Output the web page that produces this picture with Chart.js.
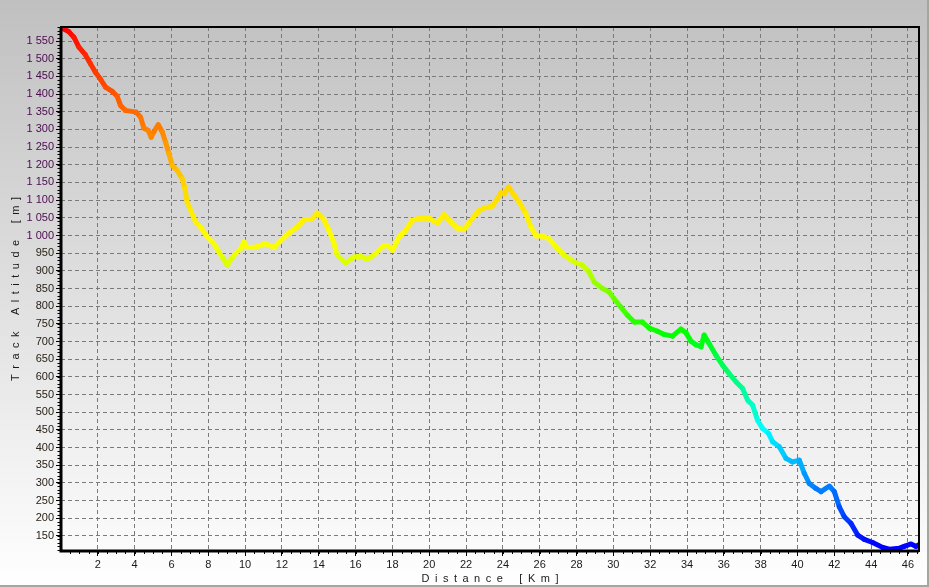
<!DOCTYPE html>
<html>
<head>
<meta charset="utf-8">
<title>Track Altitude</title>
<script src="https://cdn.jsdelivr.net/npm/chart.js@4.4.1/dist/chart.umd.min.js"></script>
<style>
  html, body { margin: 0; padding: 0; background: #fff; }
  canvas { display: block; }
</style>
</head>
<body>
<canvas id="profile" width="929" height="587"></canvas>
<script>
const distanceKm = [
  0.0, 0.42, 0.7, 0.97, 1.33, 1.6, 1.87, 2.15, 2.42, 2.78,
  3.05, 3.23, 3.5, 4.08, 4.32, 4.5, 4.74, 4.9, 5.04, 5.28,
  5.5, 5.68, 5.86, 6.04, 6.31, 6.58, 6.73, 6.85, 7.04, 7.31,
  7.58, 7.94, 8.3, 8.58, 8.8, 9.03, 9.39, 9.76, 9.93, 10.1,
  10.57, 11.1, 11.57, 11.93, 12.38, 12.83, 13.2, 13.6, 13.92, 14.28,
  14.55, 14.83, 15.0, 15.46, 15.9, 16.28, 16.64, 17.09, 17.5, 17.72,
  18.0, 18.36, 18.72, 19.08, 19.45, 19.99, 20.44, 20.8, 21.17, 21.53,
  21.89, 22.26, 22.7, 23.07, 23.43, 23.7, 23.89, 24.07, 24.3, 24.52,
  24.88, 25.24, 25.52, 25.79, 26.15, 26.5, 26.88, 27.33, 27.87, 28.32,
  28.68, 28.96, 29.41, 29.77, 30.04, 30.4, 30.77, 31.13, 31.58, 31.95,
  32.4, 32.76, 33.21, 33.67, 33.94, 34.21, 34.48, 34.76, 34.93, 35.2,
  35.57, 35.93, 36.29, 36.66, 37.02, 37.29, 37.56, 37.83, 38.1, 38.43,
  38.65, 39.01, 39.38, 39.73, 40.1, 40.37, 40.64, 41.0, 41.28, 41.73,
  42.0, 42.27, 42.54, 42.91, 43.27, 43.63, 44.08, 44.63, 44.99, 45.53,
  45.8, 46.17, 46.44, 46.56
];
const altitudeM = [
  1588, 1577, 1561, 1533, 1511, 1486, 1462, 1442, 1420, 1408,
  1394, 1368, 1354, 1349, 1335, 1304, 1297, 1278, 1293, 1314,
  1293, 1264, 1232, 1198, 1184, 1161, 1133, 1095, 1071, 1038,
  1024, 996, 977, 953, 935, 916, 944, 963, 982, 966,
  967, 977, 966, 986, 1007, 1024, 1045, 1045, 1064, 1045,
  1015, 977, 944, 922, 939, 941, 932, 949, 970, 972,
  958, 996, 1015, 1043, 1048, 1049, 1035, 1059, 1038, 1021,
  1017, 1043, 1071, 1079, 1083, 1104, 1121, 1118, 1137, 1121,
  1095, 1062, 1024, 999, 998, 991, 968, 944, 925, 916,
  897, 868, 850, 840, 821, 798, 774, 755, 755, 738,
  729, 720, 715, 735, 725, 701, 691, 685, 718, 694,
  661, 633, 609, 586, 567, 534, 520, 477, 454, 440,
  416, 402, 369, 359, 364, 327, 298, 284, 275, 291,
  275, 232, 204, 185, 152, 140, 131, 117, 112, 115,
  120, 127, 120, 124
];
const xTickValues = [2, 4, 6, 8, 10, 12, 14, 16, 18, 20, 22, 24, 26, 28, 30, 32, 34, 36, 38, 40, 42, 44, 46];
const yTickValues = [150, 200, 250, 300, 350, 400, 450, 500, 550, 600, 650, 700, 750, 800, 850, 900, 950,
  1000, 1050, 1100, 1150, 1200, 1250, 1300, 1350, 1400, 1450, 1500, 1550];

// altitude -> hue (red at the top, blue at the bottom)
const hueStops = [[1590, 0], [1300, 30], [1140, 50], [1040, 57], [960, 62], [910, 72], [720, 120], [450, 180], [120, 240]];

const altColor = (alt) => {
  if (alt >= hueStops[0][0]) return "hsl(0, 100%, 50%)";
  let h = 240;
  for (let i = 0; i < hueStops.length - 1; i++) {
    const [a0, h0] = hueStops[i];
    const [a1, h1] = hueStops[i + 1];
    if (alt <= a0 && alt >= a1) {
      h = h0 + (h1 - h0) * (a0 - alt) / (a0 - a1);
      break;
    }
  }
  return "hsl(" + h.toFixed(1) + ", 100%, 50%)";
};

const fmtThousands = (v) => {
  if (v < 1000) return String(v);
  return Math.floor(v / 1000) + " " + String(v % 1000).padStart(3, "0");
};

// the titles are spread out letter by letter, as in the original
const spread = (words) => words.map((w) => w.split("").join("\u2002")).join("\u2002\u2002\u2002");

const FONT = "'Liberation Sans', Arial, sans-serif";

const background = {
  id: "background",
  beforeDraw(chart) {
    const { ctx, width, height } = chart;
    const g = ctx.createLinearGradient(0, 0, 0, height);
    g.addColorStop(0, "#c0c0c0");
    g.addColorStop(1, "#ffffff");
    ctx.save();
    ctx.fillStyle = g;
    ctx.fillRect(0, 0, width, height);
    ctx.restore();
  },
  afterDraw(chart) {
    const { ctx, width, height } = chart;
    ctx.save();
    ctx.fillStyle = "#a6a69e";
    ctx.fillRect(width - 2, 0, 2, height);
    ctx.fillRect(0, height - 2, width, 2);
    ctx.restore();
  },
};

const frame = {
  id: "frame",
  afterDatasetsDraw(chart) {
    const { ctx, chartArea: a, scales: { x, y } } = chart;
    ctx.save();
    ctx.strokeStyle = "#000";
    ctx.lineWidth = 2;
    ctx.strokeRect(a.left, a.top, a.right - a.left, a.bottom - a.top);
    ctx.lineWidth = 3;
    ctx.beginPath();
    ctx.moveTo(a.left, a.top);
    ctx.lineTo(a.left, a.bottom);
    ctx.lineTo(a.right, a.bottom);
    ctx.stroke();

    // minor ticks
    ctx.lineWidth = 1;
    ctx.beginPath();
    for (let i = 1; i <= 93; i++) {
      const px = Math.round(x.getPixelForValue(i * 0.5)) + 0.5;
      ctx.moveTo(px, a.bottom);
      ctx.lineTo(px, a.bottom + 3);
    }
    for (let m = 110; m <= 1590; m += 10) {
      const py = Math.round(y.getPixelForValue(m)) + 0.5;
      ctx.moveTo(a.left - 3.5, py);
      ctx.lineTo(a.left, py);
    }
    ctx.stroke();
    ctx.restore();
  },
};

const points = distanceKm.map((d, i) => ({ x: d, y: altitudeM[i] }));

new Chart(document.getElementById("profile"), {
  type: "line",
  data: {
    datasets: [
      {
        data: points,
        borderWidth: 5,
        pointRadius: 0,
        tension: 0,
        borderJoinStyle: "round",
        borderCapStyle: "round",
        borderColor: "#ff0000",
        segment: {
          borderColor: (c) => altColor((c.p0.parsed.y + c.p1.parsed.y) / 2),
        },
      },
    ],
  },
  options: {
    responsive: false,
    animation: false,
    layout: { padding: { top: 27, right: 10, left: 0, bottom: 0 } },
    plugins: {
      legend: { display: false },
      tooltip: { enabled: false },
    },
    scales: {
      x: {
        type: "linear",
        min: 0,
        max: 46.6,
        afterBuildTicks: (s) => {
          s.ticks = xTickValues.map((v) => ({ value: v }));
        },
        afterFit: (s) => {
          s.height = 36;
        },
        grid: {
          color: "#7a7a7a",
          lineWidth: 1,
          drawTicks: true,
          tickLength: 5,
          tickColor: "#000",
          tickWidth: 1,
        },
        border: { display: false, dash: [4, 3] },
        ticks: {
          color: "#1a1a1a",
          font: { family: FONT, size: 11 },
          padding: 2,
          maxRotation: 0,
          autoSkip: false,
        },
        title: {
          display: true,
          text: spread(["Distance", "[Km]"]),
          color: "#1a1a1a",
          font: { family: FONT, size: 11 },
          padding: { top: 0, bottom: 1 },
        },
      },
      y: {
        type: "linear",
        min: 107,
        max: 1590,
        afterBuildTicks: (s) => {
          s.ticks = yTickValues.map((v) => ({ value: v }));
        },
        afterFit: (s) => {
          s.width = 61;
        },
        grid: {
          color: "#7a7a7a",
          lineWidth: 1,
          drawTicks: true,
          tickLength: 5,
          tickColor: "#000",
          tickWidth: 1,
        },
        border: { display: false, dash: [4, 3] },
        ticks: {
          color: (c) => (c.tick && c.tick.value >= 1000 ? "#4b0a50" : "#2a2218"),
          font: { family: FONT, size: 11 },
          padding: 2,
          autoSkip: false,
          callback: (v) => fmtThousands(v),
        },
        title: {
          display: true,
          text: spread(["Track", "Altitude", "[m]"]),
          color: "#1a1a1a",
          font: { family: FONT, size: 11 },
          padding: { top: 9, bottom: 0 },
        },
      },
    },
  },
  plugins: [background, frame],
});
</script>
</body>
</html>
